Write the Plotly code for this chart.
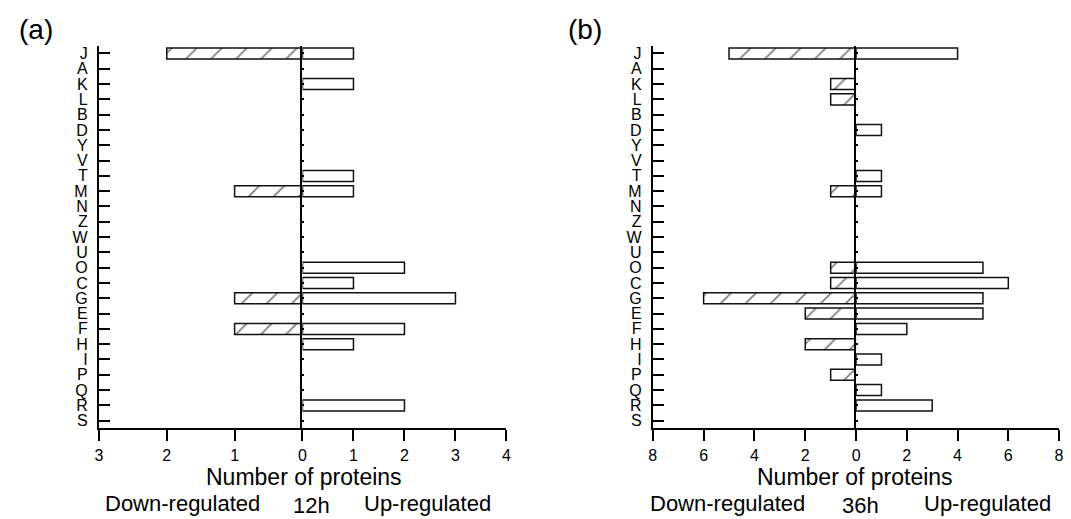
import plotly.graph_objects as go

# ---------------- data ----------------
categories = ["J", "A", "K", "L", "B", "D", "Y", "V", "T", "M", "N", "Z", "W",
              "U", "O", "C", "G", "E", "F", "H", "I", "P", "Q", "R", "S"]

up_12h   = [1, 0, 1, 0, 0, 0, 0, 0, 1, 1, 0, 0, 0, 0, 2, 1, 3, 0, 2, 1, 0, 0, 0, 2, 0]
down_12h = [2, 0, 0, 0, 0, 0, 0, 0, 0, 1, 0, 0, 0, 0, 0, 0, 1, 0, 1, 0, 0, 0, 0, 0, 0]

up_36h   = [4, 0, 0, 0, 0, 1, 0, 0, 1, 1, 0, 0, 0, 0, 5, 6, 5, 5, 2, 0, 1, 0, 1, 3, 0]
down_36h = [5, 0, 1, 1, 0, 0, 0, 0, 0, 1, 0, 0, 0, 0, 1, 1, 6, 2, 0, 2, 0, 1, 0, 0, 0]

ticks_12h_down = [3, 2, 1]
ticks_12h_up = [0, 1, 2, 3, 4]
ticks_36h_down = [8, 6, 4, 2]
ticks_36h_up = [0, 2, 4, 6, 8]

# ---------------- layout constants ----------------
W, H = 1071, 519
FONT = "Liberation Sans, Arial, sans-serif"
LINE = "#111111"


def px_x(p):
    return p / W


def px_y(p):
    return 1 - p / H


def nz(vals):
    return [v if v else None for v in vals]


ydom = [px_y(429), px_y(45)]

fig = go.Figure()

down_marker = dict(color="white", line=dict(color=LINE, width=1.5),
                   pattern=dict(shape="/", size=17.7, solidity=0.1,
                                fgcolor="black", bgcolor="white"))
up_marker = dict(color="white", line=dict(color=LINE, width=1.5))

panels = [
    (down_12h, up_12h, "x", "y", "x2", "y2"),
    (down_36h, up_36h, "x3", "y3", "x4", "y4"),
]
for down, up, xl, yl, xr, yr in panels:
    fig.add_trace(go.Bar(y=categories, x=nz(down), orientation="h", width=0.72,
                         marker=down_marker, xaxis=xl, yaxis=yl, showlegend=False,
                         hoverinfo="x+y"))
    fig.add_trace(go.Bar(y=categories, x=nz(up), orientation="h", width=0.72,
                         marker=up_marker, xaxis=xr, yaxis=yr, showlegend=False,
                         hoverinfo="x+y"))

xcommon = dict(showline=True, linewidth=2, linecolor="black", ticks="outside",
               ticklen=11, tickwidth=2, tickcolor="black", showgrid=False,
               zeroline=False, tickfont=dict(family=FONT, size=16, color="black"),
               fixedrange=True)

yrange = [len(categories) - 0.5, -0.5]
ycat = dict(type="category", categoryorder="array", categoryarray=categories,
            tickmode="array", tickvals=categories, ticktext=categories,
            range=yrange, showgrid=False, zeroline=False, fixedrange=True)

a_l, a_0, a_r = px_x(95.7), px_x(301), px_x(506.7)
b_l, b_0, b_r = px_x(654.3), px_x(859.3), px_x(1064)

ylab = dict(showline=True, linewidth=2, linecolor="black",
            ticks="inside", ticklen=11, tickwidth=2, tickcolor="black",
            tickfont=dict(family=FONT, size=16, color="black"), ticklabelstandoff=6)
yzero = dict(showline=True, linewidth=2, linecolor="black", ticks="inside", ticklen=2,
             tickwidth=2, tickcolor="black", showticklabels=False)

fig.update_layout(
    xaxis=dict(domain=[a_l, a_0], range=[3, 0], tickvals=ticks_12h_down, anchor="y", **xcommon),
    xaxis2=dict(domain=[a_0, a_r], range=[0, 4], tickvals=ticks_12h_up, anchor="y2", **xcommon),
    xaxis3=dict(domain=[b_l, b_0], range=[8, 0], tickvals=ticks_36h_down, anchor="y3", **xcommon),
    xaxis4=dict(domain=[b_0, b_r], range=[0, 8], tickvals=ticks_36h_up, anchor="y4", **xcommon),
    yaxis=dict(domain=ydom, anchor="x", **ylab, **ycat),
    yaxis2=dict(domain=ydom, anchor="x2", **yzero, **ycat),
    yaxis3=dict(domain=ydom, anchor="x3", **ylab, **ycat),
    yaxis4=dict(domain=ydom, anchor="x4", **yzero, **ycat),
    width=W, height=H,
    margin=dict(l=0, r=0, t=0, b=0),
    paper_bgcolor="white", plot_bgcolor="rgba(0,0,0,0)",
    barmode="overlay",
)

ann = []


def add_text(text, xpx, ypx, size):
    ann.append(dict(text=text, x=px_x(xpx), y=px_y(ypx), xref="paper", yref="paper",
                    xanchor="center", yanchor="middle", showarrow=False,
                    font=dict(family=FONT, size=size, color="black")))


add_text("(a)", 32.5, 29, 28)
add_text("(b)", 586, 29, 28)
add_text("Number of proteins", 303, 478, 23)
add_text("Number of proteins", 858, 478, 23)
add_text("Down-regulated", 180.5, 504, 22)
add_text("12h", 310, 506, 22)
add_text("Up-regulated", 426.6, 504, 22)
add_text("Down-regulated", 730, 504, 22)
add_text("36h", 864, 506, 22)
add_text("Up-regulated", 991.7, 504, 22)

fig.update_layout(annotations=ann)

fig.write_html(
    "out.html",
    config={"displayModeBar": False},
    post_script="document.body.style.margin='0px';document.body.style.overflow='hidden';",
)
